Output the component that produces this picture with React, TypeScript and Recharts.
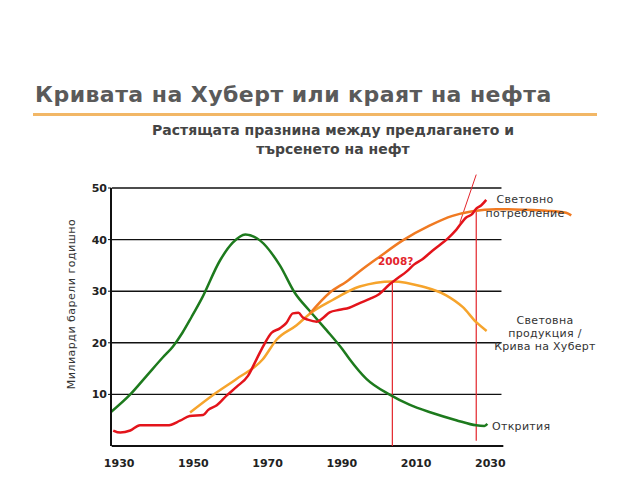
import { Line, LineChart, ReferenceLine, XAxis, YAxis } from "recharts";

// Открития (discoveries)
const discoveryYears = [1927.8, 1933, 1937.4, 1941.8, 1944.5, 1947, 1949.5, 1952.2, 1957.2, 1960.6, 1964, 1968, 1973.3, 1977.3, 1981.3, 1985.8, 1990.2, 1992.1, 1996.6, 2003, 2008.2, 2014.4, 2020.8, 2026.2, 2028.4, 2029.2];
const discoveryValues = [6.6, 10, 13.6, 17.2, 19.3, 21.9, 25, 28.5, 36, 39.4, 41, 39.8, 35, 29.7, 26.2, 22.5, 18.7, 16.8, 13, 9.9, 8, 6.4, 5, 4, 3.9, 4.3];

// Световна продукция / Крива на Хуберт
const productionYears = [1949.1, 1955.3, 1961.6, 1968.7, 1972.4, 1977.8, 1981.3, 1987.5, 1994.8, 2003.7, 2011.7, 2018.1, 2022.6, 2026.2, 2029];
const productionValues = [6.5, 9.9, 13, 16.8, 20.6, 23.4, 25.6, 28.3, 30.9, 31.9, 30.9, 29.2, 26.9, 24, 22.3];

// Световно потребление (прогноза)
const demandYears = [1981.3, 1986.7, 1991.3, 1995.6, 2000, 2006.3, 2013.6, 2019.8, 2025.2, 2031.6, 2038.6, 2045, 2050.4, 2051.8];
const demandValues = [25.6, 29.7, 31.9, 34.3, 36.6, 39.8, 42.7, 44.6, 45.5, 45.9, 45.8, 45.6, 45.2, 44.7];

// Световно потребление (реално)
const consumptionYears = [1928.4, 1930.3, 1933, 1935.6, 1939, 1943, 1946.4, 1949, 1952.6, 1954, 1956.3, 1959, 1961.7, 1964.7, 1967, 1969.3, 1971, 1973.3, 1975, 1976.8, 1978.3, 1979.5, 1980.8, 1983.3, 1984.9, 1986.7, 1989.4, 1992, 1994.8, 1997.5, 2000, 2002.8, 2005, 2007.4, 2009.5, 2011.7, 2014, 2016.3, 2018.5, 2020.8, 2023.5, 2025, 2026.2, 2027.5, 2028.9];
const consumptionValues = [3.0, 2.6, 3.0, 4.0, 4.0, 4.0, 4.9, 5.8, 6.0, 7.0, 7.9, 9.8, 11.5, 13.6, 16.8, 20, 21.9, 22.8, 23.8, 25.7, 25.8, 24.9, 24.5, 24.1, 24.8, 25.9, 26.4, 26.8, 27.7, 28.5, 29.4, 31.3, 32.5, 33.8, 35.2, 36.2, 37.6, 38.9, 40.2, 41.9, 44.3, 44.9, 46, 46.6, 47.7];

const xTicks = [1930, 1950, 1970, 1990, 2010, 2030];
const yTicks = [10, 20, 30, 40, 50];

const peakYear = 2003.6;
const peakValue = 31.9;
const crossYear = 2026.2;
const crossValue = 46;
const trendFrom = { x: 2021.8, y: 43.3 };
const trendTo = { x: 2026.2, y: 52.6 };

const toRows = (years: number[], values: number[]) =>
  years.map((year, i) => ({ year, value: values[i] }));

const font = "'DejaVu Sans', Verdana, sans-serif";

const tickStyle = { fill: "#222", fontSize: 11, fontWeight: "bold", fontFamily: font };
const noteStyle = { position: "absolute" as const, fontSize: 11, color: "#333", letterSpacing: "0.3px" };

export default function App() {
  return (
    <div style={{ position: "absolute", left: 0, top: 0, width: 640, height: 480, background: "#fff", fontFamily: font }}>
      <div style={{ position: "absolute", left: 35, top: 82, fontSize: 22, fontWeight: "bold", color: "#5a5a5a", whiteSpace: "nowrap", letterSpacing: "0.45px" }}>
        Кривата на Хуберт или краят на нефта
      </div>
      <div style={{ position: "absolute", left: 33, top: 113, width: 564, height: 3, background: "#f2b766" }} />
      <div style={{ position: "absolute", left: 128, top: 121, width: 410, textAlign: "center", fontSize: 14, fontWeight: "bold", color: "#444", lineHeight: "19px" }}>
        Растящата празнина между предлагането и
        <br />
        търсенето на нефт
      </div>

      <LineChart width={640} height={480} margin={{ top: 188, right: 68, bottom: 0, left: 0 }}>
        <XAxis
          dataKey="year"
          type="number"
          domain={[1928, 2052]}
          ticks={xTicks}
          axisLine={false}
          tickLine={false}
          tickSize={6}
          tickMargin={7}
          height={34}
          tick={tickStyle}
        />
        <YAxis
          type="number"
          domain={[0, 50]}
          ticks={yTicks}
          width={111}
          axisLine={{ stroke: "#111", strokeWidth: 2 }}
          tickLine={{ stroke: "#111" }}
          tickSize={3}
          tickMargin={1}
          tick={tickStyle}
        />
        {yTicks.map((v) => (
          <ReferenceLine
            key={v}
            segment={[{ x: 1928, y: v }, { x: 2033, y: v }]}
            stroke="#111"
            strokeWidth={1.4}
          />
        ))}
        <ReferenceLine segment={[{ x: 1928, y: 0 }, { x: 2033.5, y: 0 }]} stroke="#111" strokeWidth={2} />
        <ReferenceLine segment={[{ x: peakYear, y: peakValue }, { x: peakYear, y: 0 }]} stroke="#e3242b" strokeWidth={1.2} />
        <ReferenceLine segment={[{ x: crossYear, y: crossValue }, { x: crossYear, y: 1 }]} stroke="#e3242b" strokeWidth={1.2} />
        <ReferenceLine segment={[trendFrom, trendTo]} stroke="#e3242b" strokeWidth={1} ifOverflow="visible" />
        <Line data={toRows(discoveryYears, discoveryValues)} dataKey="value" type="monotone" stroke="#1d7a1d" strokeWidth={2.5} dot={false} isAnimationActive={false} />
        <Line data={toRows(productionYears, productionValues)} dataKey="value" type="monotone" stroke="#f6a42c" strokeWidth={2.5} dot={false} isAnimationActive={false} />
        <Line data={toRows(demandYears, demandValues)} dataKey="value" type="monotone" stroke="#f07a22" strokeWidth={2.5} dot={false} isAnimationActive={false} />
        <Line data={toRows(consumptionYears, consumptionValues)} dataKey="value" type="monotone" stroke="#e3141b" strokeWidth={2.5} dot={false} isAnimationActive={false} />
      </LineChart>

      <div style={{ position: "absolute", left: 71, top: 304, transform: "translate(-50%, -50%) rotate(-90deg)", fontSize: 11, color: "#333", whiteSpace: "nowrap", letterSpacing: "0.5px" }}>
        Милиарди барели годишно
      </div>
      <div style={{ position: "absolute", left: 378, top: 255, fontSize: 10.5, fontWeight: "bold", color: "#e3242b" }}>2008?</div>
      <div style={{ ...noteStyle, left: 465, top: 193, width: 120, textAlign: "center", lineHeight: "14px" }}>
        Световно
        <br />
        потребление
      </div>
      <div style={{ ...noteStyle, left: 485, top: 314, width: 120, textAlign: "center", lineHeight: "13px" }}>
        Световна
        <br />
        продукция /
        <br />
        Крива на Хуберт
      </div>
      <div style={{ ...noteStyle, left: 492, top: 420 }}>Открития</div>
    </div>
  );
}
